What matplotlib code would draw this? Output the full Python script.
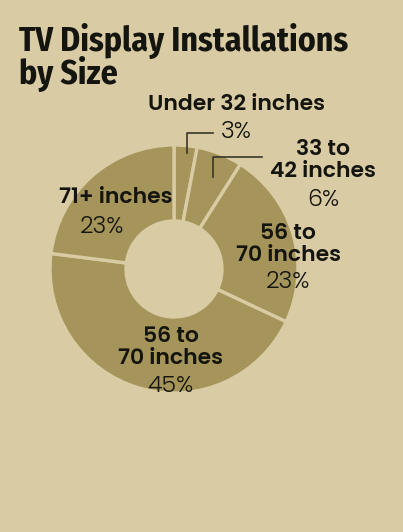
import matplotlib.pyplot as plt
from matplotlib.lines import Line2D

# data
labels = ['Under 32 inches', '33 to\n42 inches', '56 to\n70 inches', '56 to\n70 inches', '71+ inches']
shares = [3, 6, 23, 45, 23]

BG = '#d9cba4'
WEDGE = '#a5955a'
INK = '#15150f'

W, H = 403, 532
fig = plt.figure(figsize=(W / 100, H / 100), dpi=100, facecolor=BG)

def fx(x):
    return x / W

def fy(y):
    return 1 - y / H

# donut: centre (174, 269) px, outer radius 124 px
cx, cy, r = 174, 269, 124
ax = fig.add_axes([fx(cx - r), fy(cy + r), 2 * r / W, 2 * r / H])
ax.pie(shares, startangle=90, counterclock=False, colors=[WEDGE] * len(shares),
       wedgeprops=dict(width=0.613, edgecolor=BG, linewidth=2.4))
ax.set_xlim(-1, 1)
ax.set_ylim(-1, 1)
ax.set_aspect('auto')
ax.axis('off')

# title
title_font = ['Fira Sans Condensed', 'Roboto Condensed', 'Saira SemiCondensed', 'DejaVu Sans']
for txt, yb in [('TV Display Installations', 51), ('by Size', 84)]:
    fig.text(fx(19), fy(yb), txt, fontsize=24.3, fontweight='bold',
             family=title_font, color=INK, ha='left', va='baseline')

lab_font = ['Poppins', 'Lato', 'DejaVu Sans']
bold = dict(fontsize=15.8, fontweight=600, family=lab_font, color=INK,
            ha='center', va='center', linespacing=0.97)
light = dict(fontsize=17, fontweight=300, family=lab_font, color=INK,
             ha='center', va='center')

# labels with their percentage
pos = [
    ((237, 105), (236, 133)),
    ((323, 161), (323, 200)),
    ((288, 245), (288, 283)),
    ((171, 348), (170, 386)),
    ((116, 198), (102, 227)),
]
for lab, pct, ((lx, ly), (px, py)) in zip(labels, shares, pos):
    fig.text(fx(lx), fy(ly), lab, **bold)
    fig.text(fx(px), fy(py), f'{pct}%', **light)

# leader lines for the two thin slices
for xs, ys in [([187, 187, 213], [153, 133, 133]), ([213, 213, 262], [177, 157, 157])]:
    fig.add_artist(Line2D([fx(x) for x in xs], [fy(y) for y in ys],
                          color='#3a3528', linewidth=1.2))

fig.savefig('out.png', dpi=100, facecolor=BG)
